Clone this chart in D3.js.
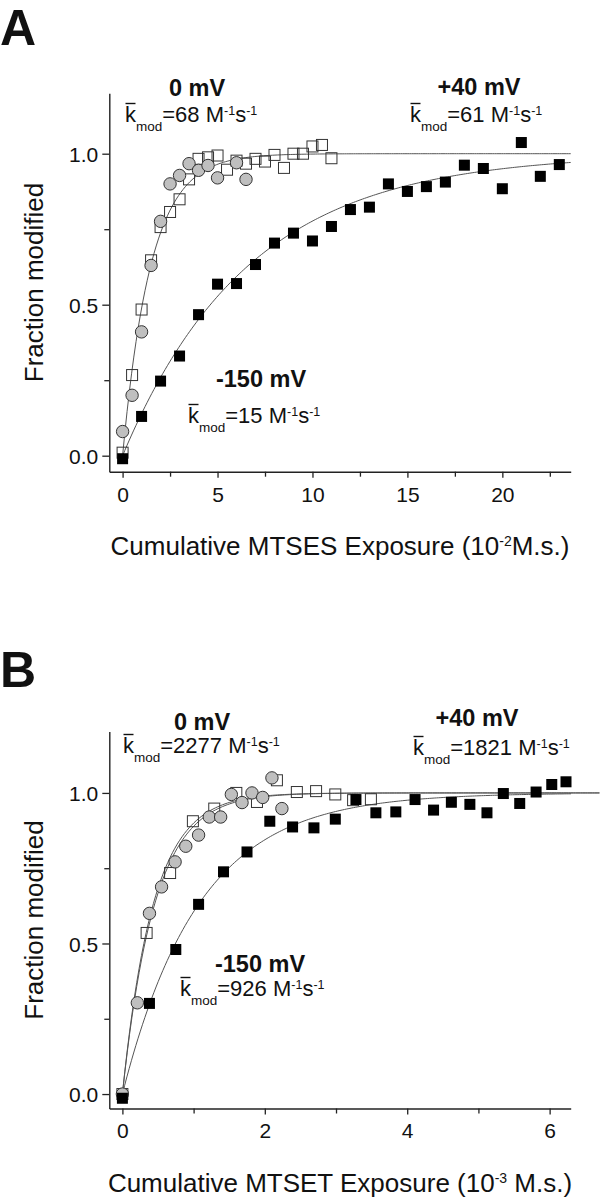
<!DOCTYPE html>
<html><head><meta charset="utf-8">
<script src="https://cdn.jsdelivr.net/npm/d3@7"></script>
<style>
body{margin:0;background:#fff}
svg{display:block}
text{font-family:"Liberation Sans",Arial,Helvetica,sans-serif;fill:#111}
</style>
</head><body>
<svg id="chart" width="608" height="1200"></svg>
<script>
// ---------- Panel A data (MTSES, x in 10^-2 M.s.) ----------
const aCircleX = [0, 0.5, 1, 1.5, 2, 2.5, 3, 3.5, 4, 4.5, 5, 6, 6.5];
const aCircleY = [0.08, 0.20, 0.41, 0.63, 0.776, 0.90, 0.928, 0.967, 0.945, 0.961, 0.92, 0.97, 0.915];
const aOpenX = [0, 0.5, 1, 1.5, 2, 2.5, 3, 3.5, 4, 4.5, 5, 5.5, 6, 6.5, 7, 7.5, 8, 8.5, 9, 9.5, 10, 10.5, 11];
const aOpenY = [0.01, 0.267, 0.484, 0.647, 0.757, 0.807, 0.849, 0.915, 0.983, 0.988, 0.994, 0.947, 0.977, 0.967, 0.983, 0.974, 0.996, 0.953, 1.0, 1.0, 1.024, 1.029, 0.985];
const aFilledX = [0, 1, 2, 3, 4, 5, 6, 7, 8, 9, 10, 11, 12, 13, 14, 15, 16, 17, 18, 19, 20, 21, 22, 23];
const aFilledY = [-0.01, 0.13, 0.247, 0.33, 0.467, 0.568, 0.57, 0.633, 0.704, 0.737, 0.711, 0.759, 0.815, 0.823, 0.9, 0.875, 0.891, 0.906, 0.962, 0.951, 0.884, 1.037, 0.925, 0.964];
const aFitK = [0.67, 0.15];
const aFitEnd = [23.6, 23.6];
const aXTicks = [0, 5, 10, 15, 20];
const aXMinor = [2.5, 7.5, 12.5, 17.5, 22.5];

// ---------- Panel B data (MTSET, x in 10^-3 M.s.) ----------
const bCircleX = [0, 0.21, 0.38, 0.55, 0.74, 0.89, 1.07, 1.22, 1.38, 1.53, 1.68, 1.82, 1.97, 2.1, 2.24];
const bCircleY = [0, 0.303, 0.6, 0.688, 0.771, 0.823, 0.86, 0.92, 0.92, 0.995, 0.968, 1.0, 0.985, 1.05, 0.948];
const bOpenX = [0, 0.34, 0.67, 0.99, 1.29, 1.6, 1.89, 2.17, 2.45, 2.72, 2.99, 3.24, 3.49];
const bOpenY = [0.0, 0.535, 0.734, 0.906, 0.948, 1.0, 0.97, 1.042, 1.003, 1.006, 0.995, 0.976, 0.979];
const bFilledX = [0, 0.38, 0.75, 1.07, 1.42, 1.75, 2.07, 2.39, 2.69, 2.99, 3.28, 3.56, 3.84, 4.11, 4.37, 4.62, 4.88, 5.12, 5.35, 5.58, 5.81, 6.03, 6.23];
const bFilledY = [-0.014, 0.301, 0.48, 0.63, 0.738, 0.804, 0.906, 0.887, 0.884, 0.913, 0.978, 0.934, 0.937, 0.978, 0.943, 0.969, 0.962, 0.934, 0.998, 0.965, 1.003, 1.028, 1.037];
const bFitK = [2.3, 2.2, 0.93];
const bFitEnd = [6.7, 6.7, 6.3];
const bXTicks = [0, 2, 4, 6];
const bXMinor = [1, 3, 5];

const yTicks = [0, 0.5, 1.0];
const yMinor = [0.25, 0.75];

// ---------- layout ----------
const svg = d3.select("#chart");
const panels = [
  {label: "A", labelY: 45,
   xDom: [-0.7, 23.6], yDom: [-0.053, 1.2], top: 93.3, bottom: 471.7,
   circ: [aCircleX, aCircleY], open: [aOpenX, aOpenY], filled: [aFilledX, aFilledY],
   fitK: aFitK, fitEnd: aFitEnd, xT: aXTicks, xM: aXMinor,
   title: ["Cumulative MTSES Exposure (10", "-2", "M.s.)"],
   notes: [
     {t: "0 mV", x: 197, y: 96}, {t: "+40 mV", x: 479, y: 95}, {t: "-150 mV", x: 261, y: 387}
   ],
   ks: [{v: "68", x: 125, y: 122}, {v: "61", x: 410, y: 122}, {v: "15", x: 188, y: 423}]
  },
  {label: "B", labelY: 687,
   xDom: [-0.184, 6.296], yDom: [-0.048, 1.204], top: 731.5, bottom: 1108.5,
   circ: [bCircleX, bCircleY], open: [bOpenX, bOpenY], filled: [bFilledX, bFilledY],
   fitK: bFitK, fitEnd: bFitEnd, xT: bXTicks, xM: bXMinor,
   title: ["Cumulative MTSET Exposure (10", "-3", " M.s.)"],
   notes: [
     {t: "0 mV", x: 202, y: 730}, {t: "+40 mV", x: 477, y: 726}, {t: "-150 mV", x: 260, y: 972}
   ],
   ks: [{v: "2277", x: 123, y: 753}, {v: "1821", x: 413, y: 755}, {v: "926", x: 180, y: 996}]
  }
];

const left = 109.3, right = 570.7;

function kbar(g, x, y, val) {
  const t = g.append("text").attr("x", x).attr("y", y).attr("font-size", 22);
  const k = t.append("tspan").text("k");
  t.append("tspan").attr("font-size", 13.5).attr("dy", 9).text("mod");
  t.append("tspan").attr("dy", -9).text("=" + val + " M");
  t.append("tspan").attr("font-size", 12.5).attr("dy", -7).text("-1");
  t.append("tspan").attr("dy", 7).text("s");
  t.append("tspan").attr("font-size", 12.5).attr("dy", -7).text("-1");
  const kw = k.node().getComputedTextLength();
  g.append("line").attr("x1", x + 0.5).attr("x2", x + kw - 0.5)
    .attr("y1", y - 18.5).attr("y2", y - 18.5)
    .attr("stroke", "#111").attr("stroke-width", 1.4);
}

function styleAxis(g) {
  g.attr("font-size", null).attr("font-family", null);
  g.selectAll("path.domain").attr("stroke", "#222").attr("stroke-width", 1.4);
  g.selectAll(".tick line").attr("stroke", "#222").attr("stroke-width", 1.3);
  g.selectAll(".tick text").attr("font-size", 21).attr("fill", "#111");
}

panels.forEach(p => {
  const g = svg.append("g");
  const x = d3.scaleLinear().domain(p.xDom).range([left, right]);
  const y = d3.scaleLinear().domain(p.yDom).range([p.bottom, p.top]);

  // panel letter
  g.append("text").attr("x", 0).attr("y", p.labelY).attr("font-size", 50)
    .attr("font-weight", "bold").text(p.label);

  // axes
  const gx = g.append("g").attr("transform", `translate(0,${p.bottom})`)
    .call(d3.axisBottom(x).tickValues(p.xT).tickSize(6).tickSizeOuter(0).tickPadding(9).tickFormat(d3.format("d")));
  styleAxis(gx);
  const gxm = g.append("g").attr("transform", `translate(0,${p.bottom})`)
    .call(d3.axisBottom(x).tickValues(p.xM).tickSize(5).tickSizeOuter(0).tickFormat(""));
  styleAxis(gxm); gxm.select("path.domain").remove();

  const gy = g.append("g").attr("transform", `translate(${left},0)`)
    .call(d3.axisLeft(y).tickValues(yTicks).tickSize(7).tickSizeOuter(0).tickPadding(4).tickFormat(d3.format(".1f")));
  styleAxis(gy);
  gy.selectAll(".tick text").attr("dy", "0.36em");
  const gym = g.append("g").attr("transform", `translate(${left},0)`)
    .call(d3.axisLeft(y).tickValues(yMinor).tickSize(5).tickSizeOuter(0).tickFormat(""));
  styleAxis(gym); gym.select("path.domain").remove();

  // axis titles
  g.append("text").attr("transform", `translate(43,${(p.top + p.bottom) / 2}) rotate(-90)`)
    .attr("text-anchor", "middle").attr("font-size", 26).text("Fraction modified");
  const tt = g.append("text").attr("x", (left + right) / 2).attr("y", p.bottom + 83)
    .attr("text-anchor", "middle").attr("font-size", 26);
  tt.append("tspan").text(p.title[0]);
  tt.append("tspan").attr("font-size", 14).attr("dy", -9).text(p.title[1]);
  tt.append("tspan").attr("dy", 9).text(p.title[2]);

  // fit curves
  const line = d3.line().x(d => x(d[0])).y(d => y(d[1]));
  p.fitK.forEach((k, i) => {
    const pts = d3.range(0, 201).map(j => {
      const xv = p.fitEnd[i] * j / 200;
      return [xv, 1 - Math.exp(-k * xv)];
    });
    g.append("path").attr("d", line(pts)).attr("fill", "none")
      .attr("stroke", "#555").attr("stroke-width", 1);
  });

  // markers: open squares, circles, filled squares
  const s = 11;
  g.selectAll(null).data(d3.zip(p.open[0], p.open[1])).join("rect")
    .attr("x", d => x(d[0]) - s / 2).attr("y", d => y(d[1]) - s / 2)
    .attr("width", s).attr("height", s)
    .attr("fill", "none").attr("stroke", "#333").attr("stroke-width", 1);
  g.selectAll(null).data(d3.zip(p.circ[0], p.circ[1])).join("circle")
    .attr("cx", d => x(d[0])).attr("cy", d => y(d[1])).attr("r", 6.2)
    .attr("fill", "#bfbfbf").attr("stroke", "#333").attr("stroke-width", 1);
  g.selectAll(null).data(d3.zip(p.filled[0], p.filled[1])).join("rect")
    .attr("x", d => x(d[0]) - s / 2).attr("y", d => y(d[1]) - s / 2)
    .attr("width", s).attr("height", s).attr("fill", "#000");

  // annotations
  p.notes.forEach(n => {
    g.append("text").attr("x", n.x).attr("y", n.y).attr("text-anchor", "middle")
      .attr("font-size", 23.5).attr("font-weight", "bold").text(n.t);
  });
  p.ks.forEach(k => kbar(g, k.x, k.y, k.v));
});
</script>
</body></html>
